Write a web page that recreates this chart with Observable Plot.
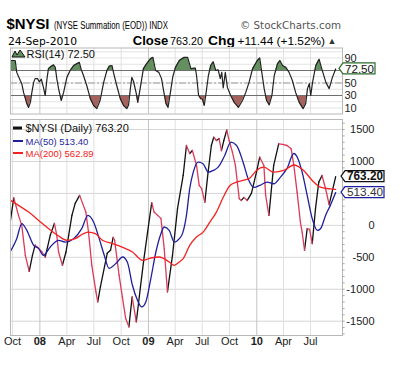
<!DOCTYPE html>
<html><head><meta charset="utf-8">
<script src="https://cdn.jsdelivr.net/npm/d3@7"></script>
<script src="https://cdn.jsdelivr.net/npm/@observablehq/plot@0.6"></script>
<style>
html,body{margin:0;padding:0;background:#fff}
body{width:402px;height:366px;position:relative;overflow:hidden;font-family:"Liberation Sans",Arial,sans-serif}
#hdr,#rsi,#main{position:absolute;left:0}
#rsi{top:44px}
#main{top:113px}
svg text{font-family:"Liberation Sans",Arial,sans-serif}
</style></head><body>
<svg id="hdr" width="402" height="47" style="top:0">
  <text x="6.5" y="29" font-weight="bold" font-size="15" textLength="43" lengthAdjust="spacingAndGlyphs">$NYSI</text>
  <text x="54" y="28.5" font-size="10" textLength="114" lengthAdjust="spacingAndGlyphs">(NYSE Summation (EOD)) INDX</text>
  <text x="240" y="28.5" font-size="10.5" fill="#555" style="font-family:'DejaVu Sans'" textLength="101" lengthAdjust="spacingAndGlyphs">© StockCharts.com</text>
  <text x="8" y="44.5" font-size="10" style="font-family:'DejaVu Sans'" textLength="69" lengthAdjust="spacingAndGlyphs">24-Sep-2010</text>
  <text x="132.7" y="44.5" font-size="12.5" font-weight="bold" textLength="35.6" lengthAdjust="spacingAndGlyphs">Close</text>
  <text x="170" y="44.5" font-size="11" textLength="33" lengthAdjust="spacingAndGlyphs">763.20</text>
  <text x="208" y="44.5" font-size="12.5" font-weight="bold" textLength="27" lengthAdjust="spacingAndGlyphs">Chg</text>
  <text x="237.5" y="44.5" font-size="11" textLength="87.5" lengthAdjust="spacingAndGlyphs">+11.44 (+1.52%)</text>
  <text x="327.5" y="44" font-size="9" fill="#333" textLength="9" lengthAdjust="spacingAndGlyphs">▲</text>
</svg>
<div id="rsi"></div>
<div id="main"></div>
<script>
// ---------- data ----------
const xTickDates = ["2007-10-01","2008-01-01","2008-04-01","2008-07-01","2008-10-01","2009-01-01","2009-04-01","2009-07-01","2009-10-01","2010-01-01","2010-04-01","2010-07-01"];
const xTickLabels = ["Oct","08","Apr","Jul","Oct","09","Apr","Jul","Oct","10","Apr","Jul"];
const yTickValues = [1500,1000,0,-500,-1000,-1500];
const yGridValues = [-1500,-1000,-500,0,500,1000,1500];
const rsiTickValues = [90,50,30,10];

const nysiDates = ["2007-09-24","2007-10-05","2007-10-21","2007-11-01","2007-11-13","2007-11-26","2007-12-07","2007-12-16","2007-12-25","2008-01-08","2008-01-19","2008-02-05","2008-02-19","2008-02-27","2008-03-04","2008-03-17","2008-03-29","2008-04-07","2008-04-18","2008-04-29","2008-05-14","2008-05-24","2008-06-04","2008-06-13","2008-06-24","2008-07-08","2008-07-14","2008-07-23","2008-08-15","2008-08-26","2008-09-04","2008-09-09","2008-09-24","2008-10-05","2008-10-16","2008-10-27","2008-11-07","2008-11-21","2008-12-05","2008-12-16","2008-12-29","2009-01-12","2009-01-20","2009-02-01","2009-02-12","2009-02-23","2009-03-06","2009-03-23","2009-04-09","2009-04-28","2009-05-09","2009-05-20","2009-05-29","2009-06-12","2009-06-21","2009-06-29","2009-07-10","2009-07-21","2009-08-01","2009-08-09","2009-08-18","2009-08-27","2009-09-04","2009-09-12","2009-09-22","2009-09-30","2009-10-11","2009-10-21","2009-11-03","2009-11-10","2009-11-19","2009-11-30","2009-12-14","2009-12-31","2010-01-11","2010-01-25","2010-01-31","2010-02-11","2010-02-27","2010-03-16","2010-03-29","2010-04-13","2010-04-27","2010-05-06","2010-05-17","2010-05-28","2010-06-03","2010-06-11","2010-06-20","2010-06-28","2010-07-07","2010-07-18","2010-07-29","2010-08-09","2010-08-21","2010-09-02","2010-09-24"];
const nysiValues = [80,430,156,0,-470,-720,-470,-310,-345,-417,-495,-156,31,-156,-417,-625,-417,-156,156,344,469,344,208,-105,-625,-1042,-1198,-964,-437,-390,-187,-234,-781,-1120,-1453,-1589,-1120,-1511,-964,-547,-105,355,208,156,109,-359,-1042,-469,266,781,1250,1125,1172,938,625,578,364,833,1250,1380,1328,1359,1170,1328,1492,1328,1145,938,417,390,438,390,500,833,1067,938,469,156,938,1277,1266,1250,1198,938,521,52,-105,-390,-52,-62,-286,261,677,781,573,323,763.2];

const ma50Dates = ["2007-09-24","2007-10-15","2007-11-01","2007-11-18","2007-12-11","2007-12-28","2008-01-13","2008-02-05","2008-03-04","2008-03-26","2008-04-24","2008-05-21","2008-06-11","2008-06-30","2008-07-19","2008-08-05","2008-08-21","2008-09-13","2008-10-06","2008-10-22","2008-11-08","2008-11-25","2008-12-09","2008-12-23","2009-01-09","2009-01-26","2009-02-12","2009-02-23","2009-03-12","2009-03-29","2009-04-15","2009-04-26","2009-05-09","2009-05-20","2009-06-01","2009-06-18","2009-07-04","2009-07-22","2009-08-07","2009-08-24","2009-09-15","2009-10-06","2009-10-25","2009-11-16","2009-12-03","2009-12-23","2010-01-11","2010-02-05","2010-02-27","2010-03-22","2010-04-13","2010-05-06","2010-05-18","2010-06-03","2010-06-20","2010-07-07","2010-07-24","2010-08-04","2010-08-21","2010-09-06","2010-09-24"];
const ma50Values = [-406,-208,27,-78,-313,-364,-469,-339,-234,-261,-208,-52,156,52,-208,-469,-672,-598,-495,-578,-938,-1172,-1276,-1198,-833,-417,-130,-26,-78,-261,-208,-125,156,573,833,989,964,833,859,911,1094,1302,1250,989,730,594,625,677,651,755,891,1125,1063,833,469,105,-78,-52,156,313,513.4];

const ma200Dates = ["2007-09-24","2007-10-21","2007-11-24","2007-12-28","2008-01-31","2008-03-04","2008-04-01","2008-04-29","2008-05-27","2008-06-13","2008-07-06","2008-07-30","2008-09-02","2008-10-06","2008-11-08","2008-12-12","2009-01-09","2009-02-06","2009-03-12","2009-03-29","2009-04-15","2009-04-28","2009-05-20","2009-06-12","2009-07-04","2009-07-27","2009-08-18","2009-09-10","2009-10-02","2009-10-25","2009-11-16","2009-12-09","2009-12-31","2010-01-25","2010-02-27","2010-04-02","2010-05-06","2010-06-08","2010-07-07","2010-08-04","2010-09-06","2010-09-24"];
const ma200Values = [391,313,208,78,-52,-167,-234,-208,-130,-105,-130,-234,-286,-344,-417,-547,-511,-495,-573,-625,-573,-521,-313,-183,-105,52,208,440,620,677,703,742,859,911,833,859,945,859,703,598,570,562.89];

const rsiDates = ["2007-09-24","2007-10-10","2007-10-15","2007-10-27","2007-11-01","2007-11-07","2007-11-18","2007-11-24","2007-11-30","2007-12-05","2007-12-11","2007-12-16","2007-12-24","2007-12-30","2008-01-06","2008-01-13","2008-01-19","2008-01-25","2008-01-30","2008-02-06","2008-02-16","2008-02-22","2008-02-27","2008-03-04","2008-03-13","2008-03-21","2008-04-01","2008-04-12","2008-04-24","2008-05-05","2008-05-13","2008-05-19","2008-05-27","2008-06-07","2008-06-19","2008-06-30","2008-07-11","2008-07-22","2008-08-03","2008-08-14","2008-08-22","2008-08-31","2008-09-05","2008-09-16","2008-09-28","2008-10-09","2008-10-20","2008-10-26","2008-11-01","2008-11-06","2008-11-12","2008-11-21","2008-11-26","2008-12-04","2008-12-15","2008-12-26","2009-01-08","2009-01-16","2009-01-25","2009-02-05","2009-02-14","2009-02-22","2009-03-01","2009-03-08","2009-03-16","2009-03-24","2009-04-02","2009-04-15","2009-05-01","2009-05-13","2009-05-24","2009-06-08","2009-06-12","2009-06-19","2009-06-26","2009-07-02","2009-07-08","2009-07-13","2009-07-22","2009-07-30","2009-08-07","2009-08-16","2009-08-24","2009-08-31","2009-09-05","2009-09-10","2009-09-17","2009-09-24","2009-10-05","2009-10-17","2009-10-31","2009-11-14","2009-11-25","2009-12-06","2009-12-18","2010-01-03","2010-01-11","2010-01-18","2010-01-26","2010-02-03","2010-02-12","2010-02-21","2010-03-01","2010-03-12","2010-03-20","2010-03-29","2010-04-09","2010-04-20","2010-05-01","2010-05-12","2010-05-24","2010-06-06","2010-06-15","2010-06-21","2010-06-27","2010-07-02","2010-07-08","2010-07-19","2010-07-30","2010-08-08","2010-08-22","2010-09-02","2010-09-13","2010-09-24"];
const rsiValues = [86,86,67,54,49,35,17,11,19,35,51,57,57,52,56,43,30,57,73,76,79,75,57,41,22,35,59,70,78,81,83,72,62,46,25,14,9,22,51,70,77,78,67,46,25,14,9,15,41,59,52,33,19,41,73,81,89,91,70,67,57,35,17,11,35,60,75,86,91,91,73,74,62,30,25,24,14,30,62,78,84,70,71,57,67,42,67,43,30,19,11,22,35,51,73,86,90,67,41,22,15,30,62,81,86,78,75,67,54,35,19,9,17,41,49,30,51,78,88,73,51,41,59,72.5];

const lastClose = 763.20, lastMA50 = 513.40, lastMA200 = 562.89, lastRSI = 72.50;

// ---------- build ----------
const P = d3.utcParse("%Y-%m-%d");
const xDomain = [P("2007-09-24"), P("2010-10-17")];
const rows = (ds, vs) => ds.map((d, i) => ({date: P(d), v: vs[i]}));
const nysi = rows(nysiDates, nysiValues);
const ma50 = rows(ma50Dates, ma50Values);
const ma200 = rows(ma200Dates, ma200Values);
const rsi = rows(rsiDates, rsiValues);
const ticks = xTickDates.map((d, i) => ({date: P(d), label: xTickLabels[i], year: /^\d+$/.test(xTickLabels[i])}));
const monthTicks = ticks.filter(t => !t.year).map(t => t.date);
const yearTicks = ticks.filter(t => t.year).map(t => t.date);
const segs = d3.pairs(nysi).map(([a, b]) => ({x1: a.date, y1: a.v, x2: b.date, y2: b.v, up: b.v >= a.v}));

const RED = "#dc3a58", BLUE = "#1f1f9e", MARED = "#f42222";

// RSI panel
const rsiChart = Plot.plot({
  width: 402, height: 72,
  marginTop: 3.5, marginBottom: 2.5, marginLeft: 10, marginRight: 60,
  x: {type: "utc", domain: xDomain, axis: null},
  y: {domain: [0.4, 106], axis: null},
  marks: [
    Plot.ruleY(d3.range(10, 101, 10), {stroke: "#e3e3e3"}),
    Plot.ruleX(monthTicks, {stroke: "#e0e0e0"}),
    Plot.ruleX(yearTicks, {stroke: "#c4c4c4"}),
    Plot.areaY(rsi, {x: "date", y1: 70, y2: "v", fill: "#64905f", curve: "linear"}),
    Plot.areaY(rsi, {x: "date", y1: 30, y2: "v", fill: "#a5625c", curve: "linear"}),
    Plot.ruleY([70, 30], {stroke: "#6e6e6e"}),
    Plot.ruleY([50], {stroke: "#9a9a9a", strokeDasharray: "7,2,2,2"}),
    Plot.line(rsi, {x: "date", y: "v", stroke: "#222", strokeWidth: 1.2}),
    Plot.frame({stroke: "#b8b8b8"}),
    Plot.text(rsiTickValues, {y: d => d, text: d => String(d), frameAnchor: "right", dx: 2, textAnchor: "start", fontSize: 11, fill: "#222"}),
    Plot.text([`RSI(14) ${lastRSI.toFixed(2)}`], {frameAnchor: "top-left", dx: 16, dy: 6.5, lineAnchor: "middle", textAnchor: "start", fontSize: 11, fontFamily: "DejaVu Sans Mono", fill: "#111"})
  ]
});
document.getElementById("rsi").appendChild(rsiChart);

// Main panel
const mainChart = Plot.plot({
  width: 402, height: 253,
  marginTop: 6, marginBottom: 31, marginLeft: 10, marginRight: 60,
  x: {type: "utc", domain: xDomain, axis: null},
  y: {domain: [-1724, 1657], axis: null},
  marks: [
    Plot.ruleY(yGridValues, {stroke: "#d6d6d6"}),
    Plot.ruleX(monthTicks, {stroke: "#e0e0e0"}),
    Plot.ruleX(yearTicks, {stroke: "#c4c4c4"}),
    Plot.link(segs.filter(s => s.up), {x1: "x1", y1: "y1", x2: "x2", y2: "y2", stroke: "#111", strokeWidth: 1.3, strokeLinecap: "round"}),
    Plot.link(segs.filter(s => !s.up), {x1: "x1", y1: "y1", x2: "x2", y2: "y2", stroke: RED, strokeWidth: 1.3, strokeLinecap: "round"}),
    Plot.line(ma50, {x: "date", y: "v", stroke: BLUE, strokeWidth: 1.3, curve: "monotone-x"}),
    Plot.line(ma200, {x: "date", y: "v", stroke: MARED, strokeWidth: 1.3, curve: "monotone-x"}),
    Plot.frame({stroke: "#b8b8b8"}),
    Plot.ruleY(d3.range(-1700, 1700, 100), {x1: xDomain[1], x2: d3.utcDay.offset(xDomain[1], 9), stroke: "#aaa"}),
    Plot.text(yTickValues, {y: d => d, text: d => String(d), frameAnchor: "right", dx: 32, textAnchor: "end", fontSize: 11, fill: "#222"}),
    Plot.text(ticks.filter(t => !t.year), {x: "date", text: "label", frameAnchor: "bottom", dy: 9.5, fontSize: 11, fill: "#222"}),
    Plot.text(ticks.filter(t => t.year), {x: "date", text: "label", frameAnchor: "bottom", dy: 9.5, fontSize: 11, fontWeight: "bold", fill: "#222"}),
    Plot.text([`$NYSI (Daily) ${lastClose.toFixed(2)}`], {frameAnchor: "top-left", dx: 15, dy: 9, lineAnchor: "middle", textAnchor: "start", fontSize: 11, fontFamily: "DejaVu Sans Mono", fill: "#111"}),
    Plot.text([`MA(50) ${lastMA50.toFixed(2)}`], {frameAnchor: "top-left", dx: 15, dy: 22, lineAnchor: "middle", textAnchor: "start", fontSize: 9.5, fontFamily: "DejaVu Sans", fill: BLUE}),
    Plot.text([`MA(200) ${lastMA200.toFixed(2)}`], {frameAnchor: "top-left", dx: 15, dy: 34, lineAnchor: "middle", textAnchor: "start", fontSize: 9.5, fontFamily: "DejaVu Sans", fill: MARED})
  ]
});
document.getElementById("main").appendChild(mainChart);

// ---------- decorations (value tags, legend keys, RSI fill clipping) ----------
function scaleFn(chart, name) {
  const s = chart.scale(name);
  if (s && typeof s.apply === "function") return v => s.apply(v);
  return d3.scaleLinear(s.domain, s.range);
}
function tag(svg, cy, tip, left, right, text, border, bold, fill) {
  const g = d3.select(svg).append("g");
  g.append("path")
    .attr("d", `M${tip},${cy} L${left},${cy - 5.5} L${right},${cy - 5.5} L${right},${cy + 5.5} L${left},${cy + 5.5} Z`)
    .attr("fill", "#fff").attr("stroke", border).attr("stroke-width", 1.2);
  g.append("text").attr("x", (left + right) / 2 + 0.5).attr("y", cy + 4.2)
    .attr("text-anchor", "middle").attr("font-size", bold ? 12 : 11.5)
    .attr("font-weight", bold ? "bold" : "normal").attr("fill", fill)
    .attr("textLength", right - left - 3).attr("lengthAdjust", "spacingAndGlyphs")
    .style("font-family", "'Liberation Sans',Arial,sans-serif")
    .text(text);
}
{
  const y = scaleFn(rsiChart, "y");
  const svg = d3.select(rsiChart);
  const defs = svg.insert("defs", ":first-child");
  defs.append("clipPath").attr("id", "clipHi").append("rect").attr("x", 0).attr("y", 0).attr("width", 402).attr("height", y(70));
  defs.append("clipPath").attr("id", "clipLo").append("rect").attr("x", 0).attr("y", y(30)).attr("width", 402).attr("height", 100);
  const areas = rsiChart.querySelectorAll('g[aria-label="area"]');
  if (areas[0]) areas[0].setAttribute("clip-path", "url(#clipHi)");
  if (areas[1]) areas[1].setAttribute("clip-path", "url(#clipLo)");
  tag(rsiChart, y(lastRSI), 339, 343, 375, lastRSI.toFixed(2), "#2d6b2d", false, "#111");
  svg.append("path").attr("d", "M12,13 L15,7 L17,11 L20,6 L25,13 Z").attr("fill", "#5f8f5a").attr("stroke", "#111").attr("stroke-width", 1);
}
{
  const y = scaleFn(mainChart, "y");
  const svg = d3.select(mainChart);
  tag(mainChart, y(lastClose), 341, 345, 384, lastClose.toFixed(2), "#111", true, "#111");
  tag(mainChart, y(lastMA50), 341, 345, 384, lastMA50.toFixed(2), BLUE, false, "#333");
  svg.append("rect").attr("x", 13).attr("y", 13.5).attr("width", 9).attr("height", 3).attr("fill", "#111");
  svg.append("rect").attr("x", 13).attr("y", 27).attr("width", 10).attr("height", 2).attr("fill", BLUE);
  svg.append("rect").attr("x", 13).attr("y", 39).attr("width", 10).attr("height", 2).attr("fill", MARED);
}
</script>
</body></html>
